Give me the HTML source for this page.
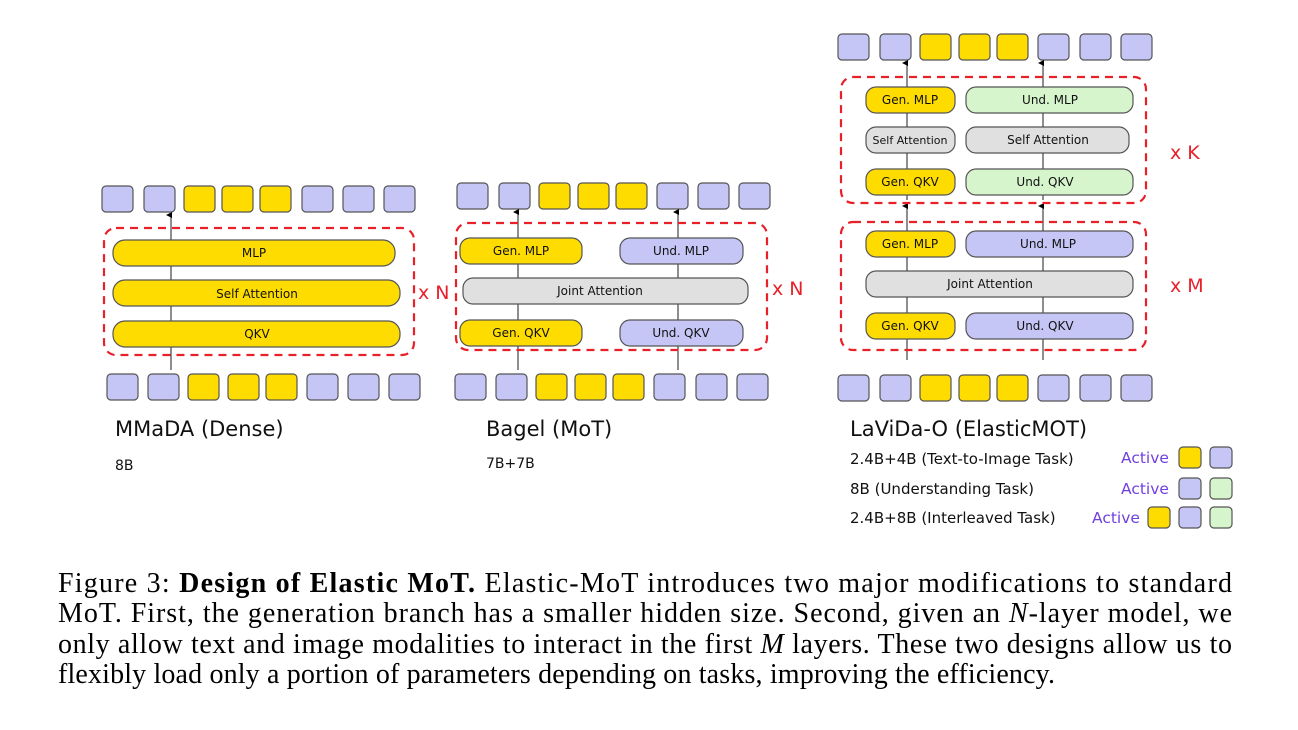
<!DOCTYPE html>
<html><head><meta charset="utf-8"><style>
html,body{margin:0;padding:0;background:#fff;}
svg{display:block;}
.t{font-family:"DejaVu Sans","Liberation Sans",sans-serif;fill:#111;}
.c{font-family:"Liberation Serif",serif;font-size:28px;fill:#000;}
</style></head><body>
<svg width="1298" height="730" viewBox="0 0 1298 730" xmlns="http://www.w3.org/2000/svg">
<defs>
<marker id="ar" markerWidth="6" markerHeight="6" refX="3" refY="5" orient="auto" markerUnits="userSpaceOnUse"><path d="M0,6 L3,0 L6,6Z" fill="#000"/></marker>
</defs>
<g stroke="#555" stroke-width="1.2">
<g>
<rect x="102" y="186" width="31" height="26" rx="4" fill="#c6c6f6"/>
<rect x="144" y="186" width="31" height="26" rx="4" fill="#c6c6f6"/>
<rect x="184" y="186" width="31" height="26" rx="4" fill="#ffdc00"/>
<rect x="222" y="186" width="31" height="26" rx="4" fill="#ffdc00"/>
<rect x="260" y="186" width="31" height="26" rx="4" fill="#ffdc00"/>
<rect x="302" y="186" width="31" height="26" rx="4" fill="#c6c6f6"/>
<rect x="343" y="186" width="31" height="26" rx="4" fill="#c6c6f6"/>
<rect x="384" y="186" width="31" height="26" rx="4" fill="#c6c6f6"/>
<rect x="107" y="374" width="31" height="26" rx="4" fill="#c6c6f6"/>
<rect x="148" y="374" width="31" height="26" rx="4" fill="#c6c6f6"/>
<rect x="188" y="374" width="31" height="26" rx="4" fill="#ffdc00"/>
<rect x="228" y="374" width="31" height="26" rx="4" fill="#ffdc00"/>
<rect x="266" y="374" width="31" height="26" rx="4" fill="#ffdc00"/>
<rect x="307" y="374" width="31" height="26" rx="4" fill="#c6c6f6"/>
<rect x="348" y="374" width="31" height="26" rx="4" fill="#c6c6f6"/>
<rect x="389" y="374" width="31" height="26" rx="4" fill="#c6c6f6"/>
</g>
<g>
<rect x="457" y="183" width="31" height="26" rx="4" fill="#c6c6f6"/>
<rect x="499" y="183" width="31" height="26" rx="4" fill="#c6c6f6"/>
<rect x="539" y="183" width="31" height="26" rx="4" fill="#ffdc00"/>
<rect x="578" y="183" width="31" height="26" rx="4" fill="#ffdc00"/>
<rect x="616" y="183" width="31" height="26" rx="4" fill="#ffdc00"/>
<rect x="657" y="183" width="31" height="26" rx="4" fill="#c6c6f6"/>
<rect x="698" y="183" width="31" height="26" rx="4" fill="#c6c6f6"/>
<rect x="739" y="183" width="31" height="26" rx="4" fill="#c6c6f6"/>
<rect x="455" y="374" width="31" height="26" rx="4" fill="#c6c6f6"/>
<rect x="496" y="374" width="31" height="26" rx="4" fill="#c6c6f6"/>
<rect x="536" y="374" width="31" height="26" rx="4" fill="#ffdc00"/>
<rect x="575" y="374" width="31" height="26" rx="4" fill="#ffdc00"/>
<rect x="613" y="374" width="31" height="26" rx="4" fill="#ffdc00"/>
<rect x="654" y="374" width="31" height="26" rx="4" fill="#c6c6f6"/>
<rect x="696" y="374" width="31" height="26" rx="4" fill="#c6c6f6"/>
<rect x="737" y="374" width="31" height="26" rx="4" fill="#c6c6f6"/>
</g>
<g>
<rect x="838" y="34" width="31" height="26" rx="4" fill="#c6c6f6"/>
<rect x="880" y="34" width="31" height="26" rx="4" fill="#c6c6f6"/>
<rect x="920" y="34" width="31" height="26" rx="4" fill="#ffdc00"/>
<rect x="959" y="34" width="31" height="26" rx="4" fill="#ffdc00"/>
<rect x="997" y="34" width="31" height="26" rx="4" fill="#ffdc00"/>
<rect x="1038" y="34" width="31" height="26" rx="4" fill="#c6c6f6"/>
<rect x="1080" y="34" width="31" height="26" rx="4" fill="#c6c6f6"/>
<rect x="1121" y="34" width="31" height="26" rx="4" fill="#c6c6f6"/>
<rect x="838" y="375" width="31" height="26" rx="4" fill="#c6c6f6"/>
<rect x="880" y="375" width="31" height="26" rx="4" fill="#c6c6f6"/>
<rect x="920" y="375" width="31" height="26" rx="4" fill="#ffdc00"/>
<rect x="959" y="375" width="31" height="26" rx="4" fill="#ffdc00"/>
<rect x="997" y="375" width="31" height="26" rx="4" fill="#ffdc00"/>
<rect x="1038" y="375" width="31" height="26" rx="4" fill="#c6c6f6"/>
<rect x="1080" y="375" width="31" height="26" rx="4" fill="#c6c6f6"/>
<rect x="1121" y="375" width="31" height="26" rx="4" fill="#c6c6f6"/>
</g>
</g>
<g stroke="#444" stroke-width="1.2">
<line x1="171" y1="370" x2="171" y2="215" marker-end="url(#ar)"/>
<line x1="518" y1="370" x2="518" y2="212" marker-end="url(#ar)"/>
<line x1="678" y1="370" x2="678" y2="212" marker-end="url(#ar)"/>
<line x1="907" y1="360" x2="907" y2="206" marker-end="url(#ar)"/>
<line x1="1043" y1="360" x2="1043" y2="206" marker-end="url(#ar)"/>
<line x1="907" y1="200" x2="907" y2="63" marker-end="url(#ar)"/>
<line x1="1043" y1="200" x2="1043" y2="63" marker-end="url(#ar)"/>
</g>
<g fill="none" stroke="#e8202a" stroke-width="2.2" stroke-dasharray="8,6">
<rect x="104" y="228" width="310" height="127" rx="12"/>
<rect x="456" y="223" width="311" height="127" rx="12"/>
<rect x="841" y="77" width="305" height="126" rx="12"/>
<rect x="841" y="222" width="305" height="128" rx="12"/>
</g>
<g stroke="#555" stroke-width="1.2">
<rect x="113" y="240" width="282" height="26" rx="12" fill="#ffdc00"/>
<rect x="113" y="280" width="287" height="26" rx="12" fill="#ffdc00"/>
<rect x="113" y="321" width="287" height="26" rx="12" fill="#ffdc00"/>
<rect x="460" y="238" width="122" height="26" rx="10" fill="#ffdc00"/>
<rect x="620" y="238" width="123" height="26" rx="10" fill="#c6c6f6"/>
<rect x="463" y="278" width="285" height="26" rx="10" fill="#e0e0e0"/>
<rect x="460" y="320" width="122" height="26" rx="10" fill="#ffdc00"/>
<rect x="620" y="320" width="123" height="26" rx="10" fill="#c6c6f6"/>
<rect x="866" y="87" width="89" height="26" rx="10" fill="#ffdc00"/>
<rect x="966" y="87" width="167" height="26" rx="10" fill="#d6f5cc"/>
<rect x="866" y="127" width="89" height="26" rx="10" fill="#e0e0e0"/>
<rect x="966" y="127" width="163" height="26" rx="10" fill="#e0e0e0"/>
<rect x="866" y="169" width="89" height="26" rx="10" fill="#ffdc00"/>
<rect x="966" y="169" width="167" height="26" rx="10" fill="#d6f5cc"/>
<rect x="866" y="231" width="89" height="26" rx="10" fill="#ffdc00"/>
<rect x="966" y="231" width="167" height="26" rx="10" fill="#c6c6f6"/>
<rect x="866" y="271" width="267" height="26" rx="10" fill="#e0e0e0"/>
<rect x="866" y="313" width="89" height="26" rx="10" fill="#ffdc00"/>
<rect x="966" y="313" width="167" height="26" rx="10" fill="#c6c6f6"/>
</g>
<g class="t" font-size="12" text-anchor="middle">
<text x="254" y="257">MLP</text>
<text x="257" y="298">Self Attention</text>
<text x="257" y="338">QKV</text>
<text x="521" y="255">Gen. MLP</text>
<text x="681" y="255">Und. MLP</text>
<text x="600" y="295">Joint Attention</text>
<text x="521" y="337">Gen. QKV</text>
<text x="681" y="337">Und. QKV</text>
<text x="910" y="104">Gen. MLP</text>
<text x="1050" y="104">Und. MLP</text>
<text x="910" y="144" font-size="11">Self Attention</text>
<text x="1048" y="144">Self Attention</text>
<text x="910" y="186">Gen. QKV</text>
<text x="1045" y="186">Und. QKV</text>
<text x="910" y="248">Gen. MLP</text>
<text x="1048" y="248">Und. MLP</text>
<text x="990" y="288">Joint Attention</text>
<text x="910" y="330">Gen. QKV</text>
<text x="1045" y="330">Und. QKV</text>
</g>
<g font-family="'DejaVu Sans','Liberation Sans',sans-serif" font-size="19" fill="#e8202a">
<text x="418" y="299">x N</text>
<text x="772" y="295">x N</text>
<text x="1170" y="159">x K</text>
<text x="1170" y="292">x M</text>
</g>
<g class="t">
<text x="115" y="436" font-size="21">MMaDA (Dense)</text>
<text x="115" y="470" font-size="14">8B</text>
<text x="486" y="436" font-size="21">Bagel (MoT)</text>
<text x="486" y="468" font-size="14">7B+7B</text>
<text x="850" y="436" font-size="21">LaViDa-O (ElasticMOT)</text>
<text x="850" y="464" font-size="15">2.4B+4B (Text-to-Image Task)</text>
<text x="850" y="494" font-size="15">8B (Understanding Task)</text>
<text x="850" y="523" font-size="15">2.4B+8B (Interleaved Task)</text>
</g>
<g font-family="'DejaVu Sans','Liberation Sans',sans-serif" font-size="15.5" fill="#7040e0">
<text x="1121" y="463">Active</text>
<text x="1121" y="494">Active</text>
<text x="1092" y="523">Active</text>
</g>
<g stroke="#555" stroke-width="1.2">
<rect x="1179" y="447" width="22" height="21" rx="4" fill="#ffdc00"/>
<rect x="1210" y="447" width="22" height="21" rx="4" fill="#c6c6f6"/>
<rect x="1179" y="478" width="22" height="21" rx="4" fill="#c6c6f6"/>
<rect x="1210" y="478" width="22" height="21" rx="4" fill="#d6f5cc"/>
<rect x="1148" y="507" width="22" height="21" rx="4" fill="#ffdc00"/>
<rect x="1179" y="507" width="22" height="21" rx="4" fill="#c6c6f6"/>
<rect x="1210" y="507" width="22" height="21" rx="4" fill="#d6f5cc"/>
</g>
<g class="c">
<text x="58" y="592" textLength="1174" lengthAdjust="spacing">Figure 3:  <tspan font-weight="bold">Design of Elastic MoT.</tspan> Elastic-MoT introduces two major modifications to standard</text>
<text x="58" y="622" textLength="1174" lengthAdjust="spacing">MoT. First, the generation branch has a smaller hidden size. Second, given an <tspan font-style="italic">N</tspan>-layer model, we</text>
<text x="58" y="653" textLength="1174" lengthAdjust="spacing">only allow text and image modalities to interact in the first <tspan font-style="italic">M</tspan> layers. These two designs allow us to</text>
<text x="58" y="683" textLength="997" lengthAdjust="spacing">flexibly load only a portion of parameters depending on tasks, improving the efficiency.</text>
</g>
</svg>
</body></html>
